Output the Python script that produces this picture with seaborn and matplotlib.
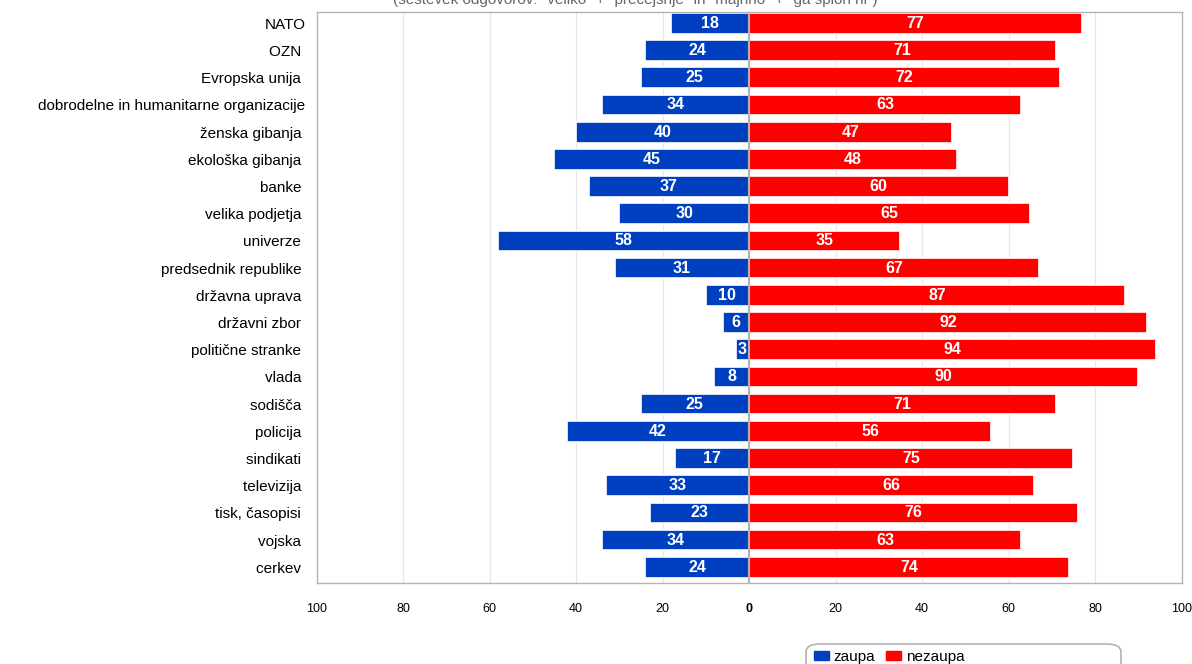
import matplotlib
matplotlib.use('Agg')
import matplotlib.pyplot as plt
import numpy as np
import pandas as pd
import seaborn as sns
from matplotlib.patches import FancyBboxPatch, Patch

categories = ['NATO', 'OZN ', 'Evropska unija ', 'dobrodelne in humanitarne organizacije',
              'ženska gibanja ', 'ekološka gibanja ', 'banke ', 'velika podjetja ',
              'univerze ', 'predsednik republike ', 'državna uprava ', 'državni zbor ',
              'politične stranke ', 'vlada ', 'sodišča ', 'policija ', 'sindikati ',
              'televizija ', 'tisk, časopisi ', 'vojska ', 'cerkev ']
zaupa = [18, 24, 25, 34, 40, 45, 37, 30, 58, 31, 10, 6, 3, 8, 25, 42, 17, 33, 23, 34, 24]
nezaupa = [77, 71, 72, 63, 47, 48, 60, 65, 35, 67, 87, 92, 94, 90, 71, 56, 75, 66, 76, 63, 74]
xticks = [-100, -80, -60, -40, -20, 0, 20, 40, 60, 80, 100]
subtitle = '(seštevek odgovorov: "veliko" + "precejšnje" in "majhno" + "ga sploh ni")'

blue = '#0040c0'
red = '#ff0000'

sns.set_theme(style='white')
plt.rcParams['font.family'] = ['Liberation Sans', 'DejaVu Sans']
plt.rcParams['text.color'] = 'black'
plt.rcParams['xtick.color'] = 'black'
plt.rcParams['ytick.color'] = 'black'

df = pd.DataFrame({'kategorija': categories * 2,
                   'vrednost': [-v for v in zaupa] + nezaupa,
                   'serija': ['zaupa'] * len(zaupa) + ['nezaupa'] * len(nezaupa)})

fig = plt.figure(figsize=(11.92, 6.64), dpi=100)
ax = fig.add_axes([316.5 / 1192, 1 - 582.5 / 664, 865 / 1192, 570.5 / 664])

sns.barplot(data=df, x='vrednost', y='kategorija', hue='serija', dodge=False,
            palette={'zaupa': blue, 'nezaupa': red}, saturation=1, orient='h', width=0.76,
            edgecolor='white', linewidth=1.2, legend=False, ax=ax, zorder=2)

for cont in ax.containers:
    labels = [f'{abs(int(round(b.get_width())))}' for b in cont]
    ax.bar_label(cont, labels=labels, label_type='center', color='white',
                 fontweight='bold', fontsize=11.5)

ax.axvline(0, color='#b3b3b3', lw=1.5, zorder=3)
for x in xticks:
    if x not in (0, -100, 100):
        ax.axvline(x, color='#e6e6e6', lw=0.9, zorder=0)

ax.set_xlim(-100, 100)
ax.set_ylim(20.56, -0.42)
ax.set_xticks(xticks)
ax.set_xticklabels([str(abs(x)) for x in xticks], fontsize=9)
for lab in ax.get_xticklabels():
    if lab.get_text() == '0':
        lab.set_fontweight('bold')
ax.tick_params(axis='x', length=0, pad=15)
ax.tick_params(axis='y', length=0, pad=8, labelsize=11)
ax.set_xlabel('')
ax.set_ylabel('')
for s in ax.spines.values():
    s.set_color('#b3b3b3')
    s.set_linewidth(1)

fig.text(635 / 1192, 1 - 4 / 664, subtitle, ha='center', va='baseline',
         fontsize=11, color='#666666')

box = FancyBboxPatch((806 / 1192, -15 / 664), 315 / 1192, 660 / 664 - 645 / 664 + 15 / 664 + 5 / 664,
                     boxstyle='round,pad=0,rounding_size=0.012', transform=fig.transFigure,
                     facecolor='white', edgecolor='#b3b3b3', lw=1.2)
fig.patches.append(box)

handles = [Patch(color=blue, label='zaupa'), Patch(color=red, label='nezaupa')]
fig.legend(handles=handles, loc='center left', bbox_to_anchor=(803 / 1192, 1 - 657 / 664),
           ncol=2, frameon=False, fontsize=11, handlelength=1.0, handleheight=0.6,
           handletextpad=0.3, columnspacing=0.7, borderpad=0.2)

fig.savefig('out.png', dpi=100)
